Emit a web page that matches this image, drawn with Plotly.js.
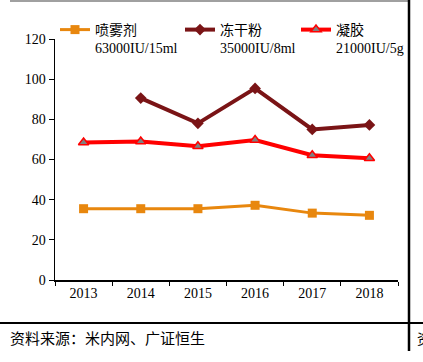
<!DOCTYPE html>
<html><head><meta charset="utf-8">
<script src="https://cdn.plot.ly/plotly-3.0.1.min.js"></script>
<style>body{margin:0;background:#fff}#c{width:423px;height:362px}</style>
</head><body><div id="c"></div>
<script>
const years = ['2013','2014','2015','2016','2017','2018'];
const sprayName = '喷雾剂<br>63000IU/15ml';
const lyoName = '冻干粉<br>35000IU/8ml';
const gelName = '凝胶<br>21000IU/5g';
const spray = [35.5, 35.5, 35.5, 37.2, 33.3, 32.2];
const lyo = [null, 90.6, 78.0, 95.4, 75.0, 77.2];
const gel = [68.5, 69.0, 66.6, 69.7, 62.1, 60.6];
const source = '资料来源：米内网、广证恒生';

const font = 'Liberation Serif, "Times New Roman", "Noto Sans CJK SC", serif';
const L = 55, R = 398, T = 39, B = 280;
const px = x => (x - L) / (R - L);
const py = y => (B - y) / (B - T);

const traces = [
  {x: years, y: spray, name: sprayName, type: 'scatter', mode: 'lines+markers', legend: 'legend',
   line: {color: '#E8870E', width: 3}, marker: {symbol: 'square', size: 9, color: '#E8870E'}},
  {x: years, y: lyo, name: lyoName, type: 'scatter', mode: 'lines+markers', legend: 'legend2',
   line: {color: '#7A1416', width: 4}, marker: {symbol: 'diamond', size: 9, color: '#7A1416'}},
  {x: years, y: gel, name: gelName, type: 'scatter', mode: 'lines+markers', legend: 'legend3',
   line: {color: '#FF0000', width: 4}, marker: {symbol: 'triangle-up', size: 9, color: '#808080', line: {color: '#FF0000', width: 1.5}}}
];

const legendBase = x => ({orientation: 'h', x: px(x), y: py(14), xanchor: 'left', yanchor: 'top',
  valign: 'top', font: {family: font, size: 14, color: '#000'}, itemwidth: 30,
  bgcolor: 'rgba(0,0,0,0)'});

const layout = {
  width: 423, height: 362,
  margin: {l: L, r: 423 - R, t: T, b: 362 - B},
  paper_bgcolor: '#fff', plot_bgcolor: '#fff',
  font: {family: font, size: 14, color: '#000'},
  showlegend: true,
  legend: legendBase(55),
  legend2: legendBase(180),
  legend3: legendBase(296),
  xaxis: {type: 'category', range: [-0.5, 5.5], showgrid: false, zeroline: false,
          showline: true, linecolor: '#000', linewidth: 1.5, ticks: 'outside', ticklen: 4,
          tickcolor: '#000', tickson: 'boundaries', tickfont: {family: font, size: 14}, fixedrange: true},
  yaxis: {range: [0, 120], dtick: 20, showgrid: false, zeroline: false,
          showline: true, linecolor: '#000', linewidth: 1.5, ticks: 'outside', ticklen: 5,
          tickcolor: '#000', tickfont: {family: font, size: 14}, fixedrange: true},
  shapes: [
    {type: 'line', xref: 'paper', yref: 'paper', x0: px(10), x1: px(409), y0: py(1), y1: py(1),
     line: {color: '#A0A0A0', width: 2}},
    {type: 'line', xref: 'paper', yref: 'paper', x0: px(409), x1: px(409), y0: py(0), y1: py(351),
     line: {color: '#000', width: 2.5}},
    {type: 'line', xref: 'paper', yref: 'paper', x0: px(0), x1: px(423), y0: py(323), y1: py(323),
     line: {color: '#000', width: 2}}
  ],
  annotations: [
    {xref: 'paper', yref: 'paper', x: px(8), y: py(339), xanchor: 'left', yanchor: 'middle',
     text: source, showarrow: false, font: {family: font, size: 15, color: '#000'}},
    {xref: 'paper', yref: 'paper', x: px(415), y: py(339), xanchor: 'left', yanchor: 'middle',
     text: '资', showarrow: false, font: {family: font, size: 14, color: '#000'}}
  ]
};
Plotly.newPlot('c', traces, layout, {displayModeBar: false, staticPlot: true});
</script></body></html>
